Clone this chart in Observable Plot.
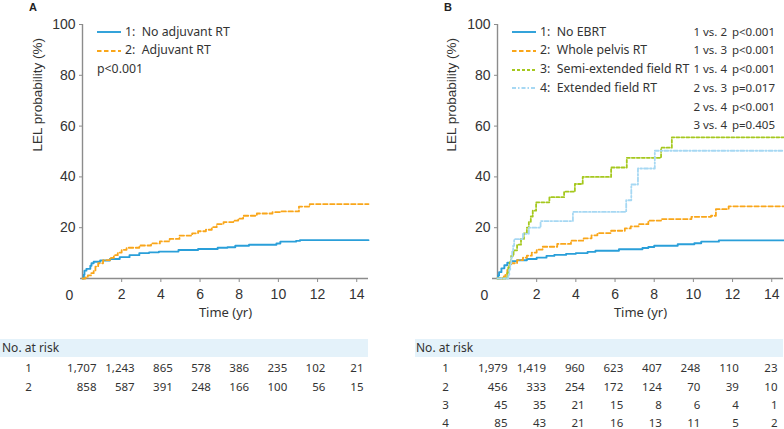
<!DOCTYPE html>
<html>
<head>
<meta charset="utf-8">
<script src="https://cdn.jsdelivr.net/npm/d3@7"></script>
<script src="https://cdn.jsdelivr.net/npm/@observablehq/plot@0.6"></script>
<style>
  html, body { margin: 0; padding: 0; background: #fff; }
  #wrap { position: relative; width: 784px; height: 429px; overflow: hidden; font-family: "Noto Sans", sans-serif; color: #333; }
  .leg { position: absolute; font-size: 12.3px; line-height: 14px; white-space: pre; color: #333; transform: translateY(-50%); }
  .leg svg { vertical-align: middle; margin-right: 4px; }
  .band { position: absolute; background: #e4f2fa; }
  .hdr { position: absolute; font-size: 12px; line-height: 14px; transform: translateY(-50%); color: #333; }
  .letter { position: absolute; font-family: "Liberation Sans", Arial, sans-serif; font-weight: bold; font-size: 11px; color: #222; }
  .pv { position: absolute; font-size: 11.5px; line-height: 14px; white-space: pre; transform: translateY(-50%); color: #333; text-align: right; }
</style>
</head>
<body>
<div id="wrap"></div>
<script>
// ---------- data ----------
const timeTicks = [0, 2, 4, 6, 8, 10, 12, 14];
const probTicks = [20, 40, 60, 80, 100];

// Panel A (time in years, cumulative LEL probability %)
const aNoAdjuvant = [[0,0],[0.07,1.5],[0.1,3.1],[0.2,3.8],[0.4,5.0],[0.46,6.0],[0.57,6.6],[0.9,7.1],[1.4,7.7],[1.9,8.4],[2.4,9.2],[2.9,10.0],[3.4,10.3],[3.9,10.6],[4.9,11.2],[5.9,11.6],[6.9,12.1],[7.4,12.3],[7.8,12.9],[8.5,13.3],[9.9,13.8],[10.1,14.5],[10.9,14.8],[11.1,15.1],[14.6,15.1]];
const aAdjuvant = [[0,0],[0.15,0.4],[0.27,1.2],[0.45,2.1],[0.57,3.1],[0.66,4.7],[0.8,6.0],[1.05,7.2],[1.4,8.1],[1.6,9.2],[1.8,10.2],[2.0,11.3],[2.25,12.1],[2.9,13.0],[3.5,13.8],[3.95,14.6],[4.45,15.6],[4.95,16.9],[5.6,17.8],[5.9,18.6],[6.3,19.2],[6.6,20.2],[6.85,21.4],[7.2,22.2],[7.7,22.8],[7.95,23.6],[8.2,24.7],[8.9,25.6],[9.7,26.1],[10.1,26.4],[11.05,28.3],[11.6,29.3],[14.6,29.3]];

// Panel B
const bNoEBRT = [[0,0],[0.03,1.2],[0.08,2.5],[0.2,4.0],[0.35,5.2],[0.5,6.2],[0.7,6.8],[1.0,7.2],[1.5,7.7],[2.0,8.2],[2.5,8.9],[2.9,9.3],[3.5,9.7],[4.0,10.0],[4.6,10.5],[5.0,10.9],[6.2,11.5],[7.4,12.0],[7.7,12.4],[8.0,12.9],[9.2,13.5],[10.05,13.9],[10.4,14.5],[11.3,15.0],[14.6,15.0]];
const bWholePelvis = [[0,0],[0.32,0.8],[0.4,1.8],[0.5,3.5],[0.6,5.0],[0.7,6.0],[1.0,7.2],[1.3,8.2],[1.5,9.0],[1.75,10.2],[2.0,11.4],[2.3,12.5],[3.05,13.6],[3.75,14.9],[4.4,15.8],[4.8,17.0],[5.1,17.9],[5.8,18.8],[6.5,19.7],[6.8,20.5],[7.2,21.4],[7.7,22.8],[8.35,23.4],[9.9,24.3],[10.9,24.7],[11.15,27.3],[11.8,28.4],[14.6,28.4]];
const bSemiExtended = [[0,0],[0.5,2.2],[0.55,4.4],[0.62,6.7],[0.7,8.9],[0.82,11.1],[1.0,13.3],[1.2,15.6],[1.35,17.8],[1.5,20.0],[1.6,22.2],[1.7,24.4],[1.8,26.7],[1.97,30.0],[2.65,32.0],[3.4,34.2],[3.95,37.2],[4.35,40.0],[5.8,43.7],[6.6,47.5],[8.35,51.5],[8.9,55.6],[14.6,55.6]];
const bExtended = [[0,0],[0.55,1.2],[0.6,3.5],[0.65,5.9],[0.7,8.2],[0.75,10.6],[0.8,12.9],[0.85,15.5],[1.3,17.6],[1.6,20.0],[2.2,22.6],[3.85,26.2],[6.57,30.8],[6.83,37.0],[7.17,43.3],[8.03,50.3],[14.6,50.3]];

// Numbers at risk
const riskA = [
  [1707, 1243, 865, 578, 386, 235, 102, 21],
  [858, 587, 391, 248, 166, 100, 56, 15]
];
const riskB = [
  [1979, 1419, 960, 623, 407, 248, 110, 23],
  [456, 333, 254, 172, 124, 70, 39, 10],
  [45, 35, 21, 15, 8, 6, 4, 1],
  [85, 43, 21, 16, 13, 11, 5, 2]
];

const legendA = ["1:  No adjuvant RT", "2:  Adjuvant RT"];
const legendB = ["1:  No EBRT", "2:  Whole pelvis RT", "3:  Semi-extended field RT", "4:  Extended field RT"];
const pComparisons = ["1 vs. 2", "1 vs. 3", "1 vs. 4", "2 vs. 3", "2 vs. 4", "3 vs. 4"];
const pValues = ["p<0.001", "p<0.001", "p<0.001", "p=0.017", "p<0.001", "p=0.405"];

// ---------- styles ----------
const styles = [
  {stroke: "#2a9fd9", dash: null, width: 1.9},
  {stroke: "#f9a61a", dash: "4.5,2.5", width: 1.8},
  {stroke: "#a5c81e", dash: "3,2", width: 1.8},
  {stroke: "#a6d8f3", dash: "4,2,1.5,2", width: 1.8}
];

const wrap = document.getElementById("wrap");
const AXIS = "#8c8c8c";

function kmPlot(series, opts) {
  const marks = [
    Plot.ruleY([0], {stroke: AXIS, strokeWidth: 1.4, insetLeft: opts.overhang}),
    Plot.ruleX([0], {stroke: AXIS, strokeWidth: 1.4}),
    Plot.axisY({ticks: probTicks, tickSize: 3, tickPadding: 4, stroke: AXIS, fill: "#333", fontSize: 14, label: null}),
    Plot.axisX({ticks: timeTicks.filter(d => d > 0), tickSize: 4, tickPadding: 7, stroke: AXIS, fill: "#333", fontSize: 14, label: null}),
    Plot.text(["0"], {x: 0, y: 0, dx: -13, dy: 17, fontSize: 14, fill: "#333"}),
    Plot.text(["LEL probability (%)"], {frameAnchor: "left", dx: opts.ylabelDx, rotate: -90, fontSize: 13.5, fill: "#333"}),
    Plot.text(["Time (yr)"], {frameAnchor: "bottom", dy: 38, fontSize: 13, fill: "#333", fontFamily: "Noto Sans"})
  ];
  series.forEach((s, i) => {
    const st = styles[opts.styleIdx[i]];
    const o = {x: d => d[0], y: d => d[1], curve: "step-after", stroke: st.stroke, strokeWidth: st.width};
    if (st.dash) o.strokeDasharray = st.dash;
    marks.push(Plot.line(s, o));
  });
  return Plot.plot({
    width: opts.width, height: 330,
    marginLeft: opts.ml, marginRight: opts.mr, marginTop: 24, marginBottom: 52,
    x: {domain: [0, 14.6]},
    y: {domain: [0, 100]},
    style: {fontFamily: "'Liberation Sans', Arial, sans-serif", fontSize: "14px", color: "#333", background: "transparent", overflow: "visible"},
    marks
  });
}

function riskPlot(rows, opts) {
  const data = [];
  rows.forEach((r, i) => r.forEach((v, j) => data.push({row: i + 1, t: timeTicks[j], v})));
  const labels = rows.map((r, i) => ({row: i + 1, label: String(i + 1)}));
  return Plot.plot({
    width: opts.width, height: 99,
    marginLeft: 0, marginRight: 0, marginTop: 0, marginBottom: 0,
    x: {domain: [0, 14], range: opts.xrange},
    y: {domain: [1, 4], range: [38.3, 92.7]},
    axis: null,
    style: {fontFamily: "'Noto Sans', sans-serif", fontSize: "11.5px", color: "#333", background: "transparent", overflow: "visible"},
    marks: [
      Plot.text(data, {x: "t", y: "row", text: d => d3.format(",")(d.v), textAnchor: "end", fontSize: 11.5, fill: "#333"}),
      Plot.text(labels, {y: "row", text: "label", frameAnchor: "left", dx: opts.labelX, textAnchor: "middle", fontSize: 11.5, fill: "#333"})
    ]
  });
}

function place(el, left, top) {
  el.style.position = "absolute";
  el.style.left = left + "px";
  el.style.top = top + "px";
  wrap.appendChild(el);
}

place(kmPlot([aNoAdjuvant, aAdjuvant], {width: 390, ml: 82, mr: 22, ylabelDx: -45, overhang: -2, styleIdx: [0, 1]}), 0, 0);
place(kmPlot([bNoEBRT, bWholePelvis, bSemiExtended, bExtended], {width: 394, ml: 107, mr: 1, ylabelDx: -46, overhang: -5, styleIdx: [0, 1, 2, 3]}), 390, 0);

function addDiv(cls, html, left, top, extra) {
  const d = document.createElement("div");
  d.className = cls;
  d.innerHTML = html;
  d.style.left = left + "px";
  d.style.top = top + "px";
  if (extra) Object.assign(d.style, extra);
  wrap.appendChild(d);
  return d;
}
addDiv("letter", "A", 29, 1);
addDiv("letter", "B", 444, 1);

function swatch(st) {
  return `<svg width="24" height="6"><line x1="0" y1="3" x2="24" y2="3" stroke="${st.stroke}" stroke-width="${st.width}" ${st.dash ? `stroke-dasharray="${st.dash}"` : ""}/></svg>`;
}
const legRowY = [31.7, 50.3, 69, 87.7, 106.5, 125.2];
legendA.forEach((t, i) => addDiv("leg", swatch(styles[i]) + t, 97, legRowY[i]));
addDiv("leg", "p<0.001", 97, legRowY[2]);
legendB.forEach((t, i) => addDiv("leg", swatch(styles[i]) + t, 512, legRowY[i]));
pComparisons.forEach((t, i) => {
  addDiv("pv", t, 0, legRowY[i], {right: (784 - 727) + "px", left: "auto"});
  addDiv("pv", pValues[i], 0, legRowY[i], {right: (784 - 775) + "px", left: "auto"});
});

addDiv("band", "", 0, 339, {width: "368px", height: "18px"});
addDiv("band", "", 415, 339, {width: "368px", height: "18px"});
addDiv("hdr", "No. at risk", 2, 348.3);
addDiv("hdr", "No. at risk", 416, 348.3);
place(riskPlot(riskA, {width: 390, xrange: [96, 363], labelX: 28}), 0, 330);
place(riskPlot(riskB, {width: 394, xrange: [117, 387], labelX: 55}), 390, 330);
</script>
</body>
</html>
